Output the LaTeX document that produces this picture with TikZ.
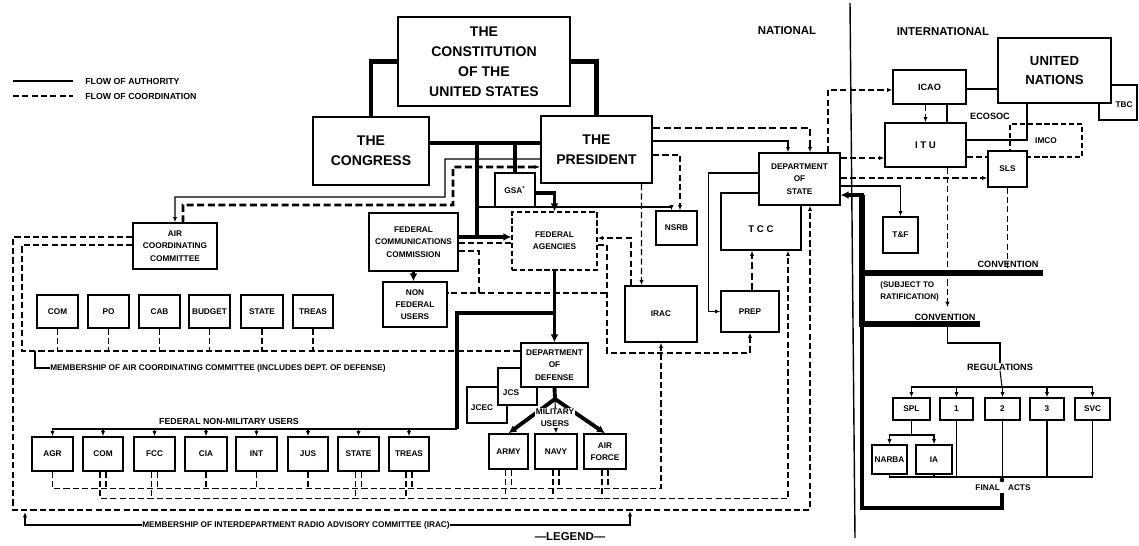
\documentclass[tikz,border=0pt]{standalone}
\usepackage{fontspec}
\setmainfont{Liberation Sans}
\usetikzlibrary{calc,arrows.meta,positioning}
\begin{document}
\begin{tikzpicture}[x=0.02cm, y=-0.02cm, >={Latex[length=3pt,width=2.4pt]}]
	\tikzset{
		org box/.style={draw, line width=0.8pt, fill=white, align=center, inner sep=0pt, font=\fontsize{4.7}{7}\selectfont\bfseries},
		big box/.style={org box, line width=1.2pt, font=\fontsize{8}{11.3}\selectfont\bfseries},
		agency box/.style={org box, dash pattern=on 3pt off 1.6pt},
		box size/.style 2 args={minimum width=#1*0.02cm, minimum height=#2*0.02cm},
		lbl/.style={inner sep=0pt, align=center, font=\fontsize{4.7}{7}\selectfont\bfseries},
		head/.style={inner sep=0pt, font=\fontsize{6.5}{8}\selectfont\bfseries},
		authority/.style={line width=0.6pt},
		heavy/.style={line width=2.2pt},
		coordination/.style={line width=0.75pt, dash pattern=on 3.5pt off 1.8pt},
		heavy coordination/.style={line width=1.5pt, dash pattern=on 4pt off 2pt},
		big tip/.style={-{Latex[length=4.5pt,width=4.5pt]}},
		big tip back/.style={{Latex[length=4.5pt,width=4.5pt]}-}
	}
	\useasboundingbox (0,0) rectangle (1139,546);

	% boxes lying under others
	\path (987,114.5) node [name=ecosoc, org box, fill=none, box size={80}{51}] {}
		(1118,102.5) node [name=tbc, org box, box size={38}{35}] {}
		(1046,140.5) node [name=imco, agency box, fill=none, box size={72}{33}] {IMCO}
		(487,405) node [name=jcec, org box, box size={40}{36}] {}
		(517.5,386.5) node [name=jcs, org box, box size={39}{37}] {}
		(761,221.5) node [name=tcc, org box, box size={80}{57}] {};
	\path (990,116) node [name=ecosoclbl, lbl, font=\fontsize{5.2}{7}\selectfont\bfseries] {ECOSOC}
		(1124,105) node [name=tbclbl, lbl] {TBC}
		(482,408) node [name=jceclbl, lbl] {JCEC}
		(511,393) node [name=jcslbl, lbl] {JCS}
		(761,229) node [name=tcclbl, lbl, font=\fontsize{5.5}{7}\selectfont\bfseries] {T C C};

	% national side
	\path (484,61.5) node [name=const, big box, box size={172}{89}] {THE\\CONSTITUTION\\OF THE\\UNITED STATES}
		(371,151) node [name=cong, big box, box size={116}{68}] {THE\\CONGRESS}
		(596.5,149.5) node [name=pres, big box, box size={111}{67}] {THE\\PRESIDENT}
		(515,190) node [name=gsa, org box, box size={40}{34}] {GSA\textsuperscript{*}}
		(554.5,241) node [name=fedag, agency box, box size={85}{58}] {FEDERAL\\AGENCIES}
		(413.5,242) node [name=fcc, org box, box size={89}{58}] {FEDERAL\\COMMUNICATIONS\\COMMISSION}
		(415,304.5) node [name=nfu, org box, box size={64}{45}] {NON\\FEDERAL\\USERS}
		(676.5,228) node [name=nsrb, org box, box size={41}{34}] {NSRB}
		(661,314) node [name=irac, org box, box size={72}{56}] {IRAC}
		(799.5,179) node [name=dos, org box, box size={81}{52}] {DEPARTMENT\\OF\\STATE}
		(750,311.5) node [name=prep, org box, box size={58}{41}] {PREP}
		(175,246) node [name=acc, org box, box size={84}{46}] {AIR\\COORDINATING\\COMMITTEE}
		(554.5,365) node [name=dod, org box, box size={67}{44}] {DEPARTMENT\\OF\\DEFENSE}
		(900.5,235) node [name=tf, org box, box size={35}{36}] {T\&F};

	\path (57.5,311.5) node [name=acccom, org box, box size={41}{33}] {COM}
		(108.5,311.5) node [name=accpo, org box, box size={41}{33}] {PO}
		(159.5,311.5) node [name=acccab, org box, box size={41}{33}] {CAB}
		(209.5,311.5) node [name=accbudget, org box, box size={41}{33}] {BUDGET}
		(262,311.5) node [name=accstate, org box, box size={42}{33}] {STATE}
		(313,311.5) node [name=acctreas, org box, box size={40}{33}] {TREAS};

	\path (52.5,454) node [name=agr, org box, box size={41}{34}] {AGR}
		(103,454) node [name=com, org box, box size={40}{34}] {COM}
		(154.5,454) node [name=fccu, org box, box size={41}{34}] {FCC}
		(206,454) node [name=cia, org box, box size={42}{34}] {CIA}
		(256.5,454) node [name=int, org box, box size={41}{34}] {INT}
		(308,454) node [name=jus, org box, box size={40}{34}] {JUS}
		(358.5,454) node [name=state, org box, box size={41}{34}] {STATE}
		(409,454) node [name=treas, org box, box size={40}{34}] {TREAS}
		(508.5,451.5) node [name=army, org box, box size={39}{35}] {ARMY}
		(556,451.5) node [name=navy, org box, box size={42}{35}] {NAVY}
		(605,451.5) node [name=af, org box, box size={42}{35}] {AIR\\FORCE};

	% international side
	\path (929.5,87) node [name=icao, org box, box size={73}{34}, font=\fontsize{5.2}{7}\selectfont\bfseries] {ICAO}
		(1054.5,70.5) node [name=un, big box, box size={113}{65}, font=\fontsize{7.5}{10.8}\selectfont\bfseries] {UNITED\\NATIONS}
		(925.5,145) node [name=itu, org box, box size={81}{44}, font=\fontsize{5.5}{7}\selectfont\bfseries] {I T U}
		(1007.5,169) node [name=sls, org box, box size={39}{36}] {SLS}
		(911.5,409) node [name=spl, org box, box size={37}{22}] {SPL}
		(956.5,409) node [name=regone, org box, box size={33}{22}] {1}
		(1002.5,409) node [name=regtwo, org box, box size={35}{22}] {2}
		(1047,409) node [name=regthree, org box, box size={34}{22}] {3}
		(1092.5,409) node [name=svc, org box, box size={35}{22}] {SVC}
		(889.5,459.5) node [name=narba, org box, box size={35}{29}] {NARBA}
		(934,459.5) node [name=ia, org box, box size={36}{29}] {IA};

	% texts
	\path (85,81) node [name=legauth, lbl, anchor=west, font=\fontsize{5}{6}\selectfont\bfseries] {FLOW OF AUTHORITY}
		(85,96) node [name=legcoord, lbl, anchor=west, font=\fontsize{5}{6}\selectfont\bfseries] {FLOW OF COORDINATION}
		(787,31) node [name=national, head] {NATIONAL}
		(943,32) node [name=international, head] {INTERNATIONAL}
		(1008,264) node [name=convone, lbl, font=\fontsize{5.2}{7}\selectfont\bfseries] {CONVENTION}
		(945,317) node [name=convtwo, lbl, font=\fontsize{5.2}{7}\selectfont\bfseries] {CONVENTION}
		(880,291) node [name=subject, lbl, anchor=west, align=left, font=\fontsize{4.6}{6.8}\selectfont\bfseries] {(SUBJECT TO\\RATIFICATION)}
		(1000,367) node [name=regs, lbl, font=\fontsize{5.2}{7}\selectfont\bfseries] {REGULATIONS}
		(1003,488) node [name=finalacts, lbl] {FINAL\quad ACTS}
		(229,421) node [name=fednonmil, lbl, font=\fontsize{5}{7}\selectfont\bfseries] {FEDERAL NON-MILITARY USERS}
		(50,368) node [name=accmember, lbl, anchor=west] {MEMBERSHIP OF AIR COORDINATING COMMITTEE (INCLUDES DEPT. OF DEFENSE)}
		(142,525) node [name=iracmember, lbl, anchor=west] {MEMBERSHIP OF INTERDEPARTMENT RADIO ADVISORY COMMITTEE (IRAC)}
		(570,537) node [name=legend, head] {—LEGEND—};

	% legend and divider
	\draw [authority, line width=1pt] (13,81) -- (73,81);
	\draw [coordination, line width=1pt] (13,96) -- (73,96);
	\draw [line width=0.8pt] (850,3) -- (855,538);

	% authority, national
	\draw [heavy, line width=2.8pt] (const.west) -| (cong.north);
	\draw [heavy, line width=2.8pt] (const.east) -| (pres.north);
	\draw [heavy] ($(cong.east)+(0,-8)$) -- ($(pres.west)+(0,-6.5)$);
	\draw [heavy] (477,143) -- (477,237);
	\draw [heavy] (515,143) -- (gsa.north);
	\draw [heavy, big tip] ($(gsa.east)+(0,3)$) -| (fedag.north);
	\draw [heavy, big tip] ($(fcc.east)+(0,-5)$) -- ($(fedag.west)+(0,-4)$);
	\draw [heavy, big tip] (fcc.south) -- (fcc.south |- nfu.north);
	\draw [heavy, big tip] (fedag.south) -- (dod.north);
	\draw [heavy] ($(fedag.south)+(0,42)$) -| (457,429);
	\draw [authority] (457,429) -- (52.5,429);
	\draw [authority, ->] ($(agr.north)+(0,-8)$) -- (agr.north);
	\draw [authority, ->] ($(com.north)+(0,-8)$) -- (com.north);
	\draw [authority, ->] ($(fccu.north)+(0,-8)$) -- (fccu.north);
	\draw [authority, ->] ($(cia.north)+(0,-8)$) -- (cia.north);
	\draw [authority, ->] ($(int.north)+(0,-8)$) -- (int.north);
	\draw [authority, ->] ($(jus.north)+(0,-8)$) -- (jus.north);
	\draw [authority, ->] ($(state.north)+(0,-8)$) -- (state.north);
	\draw [authority, ->] ($(treas.north)+(0,-8)$) -- (treas.north);
	\draw [heavy] (dod.south) -- (555,399);
	\draw [heavy, big tip] (555,399) -- (army.north);
	\draw [heavy, big tip] (555,399) -- (af.north);
	\draw [authority, ->] (555,399) -- (navy.north);
	\path (555,418) node [name=milusers, lbl, fill=white, inner sep=0.6pt] {MILITARY\\USERS};
	\draw [authority, ->] ($(pres.west)+(0,9.5)$) -- (445,159) -- (445,197) -| (acc.north);
	\draw [authority, ->] (479,207) -| ($(nsrb.north)+(-5,0)$);
	\draw [authority, ->] ($(pres.east)+(0,-8.5)$) -| ($(dos.north)+(-11.5,0)$);
	\draw [authority, ->] ($(dos.west)+(0,-6)$) -| ($(prep.west)+(-12,0)$) -- (prep.west);
	\draw [authority, ->] ($(dos.east)+(0,7)$) -| (tf.north);

	% coordination, national
	\draw [heavy coordination, <-] ($(pres.west)+(0,17.5)$) -- (453,167) -- (453,205) -| ($(acc.north)+(8,0)$);
	\draw [heavy coordination, ->] ($(pres.east)+(0,-21.5)$) -| ($(dos.north)+(10.5,0)$);
	\draw [coordination, ->] ($(pres.east)+(0,5.5)$) -| ($(nsrb.north)+(3.5,0)$);
	\draw [coordination, ->] ($(pres.south)+(45,0)$) -- ($(irac.north)+(-19.5,0)$);
	\draw [coordination] ($(fcc.east)+(0,1)$) -- ($(fedag.west)+(0,2)$);
	\draw [coordination] ($(fcc.east)+(0,9)$) -| (479,293) -- ($(nfu.east)+(0,-11.5)$);
	\draw [coordination] (479,293) -- (607,293);
	\draw [coordination, ->] ($(fedag.east)+(0,4)$) -| (607,353) -| (prep.south);
	\draw [coordination, ->] ($(irac.north)+(-30,0)$) |- ($(fedag.east)+(0,-3)$);
	\draw [heavy coordination, ->] ($(prep.north)+(2,0)$) -- ($(tcc.south)+(-9,0)$);
	\draw [coordination] ($(acc.west)+(0,-1)$) -| (22,351) -- ($(dod.west)+(0,-14)$);
	\draw [coordination] (acccom.south) -- ($(acccom.south)+(0,23)$);
	\draw [coordination] (accpo.south) -- ($(accpo.south)+(0,23)$);
	\draw [coordination] (acccab.south) -- ($(acccab.south)+(0,23)$);
	\draw [coordination] (accbudget.south) -- ($(accbudget.south)+(0,23)$);
	\draw [coordination] (accstate.south) -- ($(accstate.south)+(0,23)$);
	\draw [coordination] (acctreas.south) -- ($(acctreas.south)+(0,23)$);
	\draw [authority] (35,351) |- (accmember.west);
	\draw [coordination, ->] ($(acc.west)+(0,-9)$) -| (13,510) -| ($(dos.south)+(10.5,0)$);
	\draw [coordination, ->] (agr.south) |- ($(irac.south)+(0,146)$) -- (irac.south);
	\draw [coordination, ->] ($(com.south)+(-3,0)$) |- ($(tcc.south)+(27,248)$) -- ($(tcc.south)+(27,0)$);
	\draw [coordination] ($(com.south)+(3,0)$) -- +(0,17);
	\draw [coordination] ($(fccu.south)+(-3,0)$) -- +(0,27);
	\draw [coordination] ($(fccu.south)+(3,0)$) -- +(0,17);
	\draw [coordination] (cia.south) -- +(0,17);
	\draw [coordination] (int.south) -- +(0,17);
	\draw [coordination] (jus.south) -- +(0,17);
	\draw [coordination] ($(state.south)+(-3,0)$) -- +(0,27);
	\draw [coordination] ($(state.south)+(3,0)$) -- +(0,17);
	\draw [coordination] ($(treas.south)+(-3,0)$) -- +(0,27);
	\draw [coordination] ($(treas.south)+(3,0)$) -- +(0,17);
	\draw [coordination] ($(army.south)+(-3,0)$) -- +(0,29);
	\draw [coordination] ($(army.south)+(3,0)$) -- +(0,19);
	\draw [coordination] ($(navy.south)+(-3,0)$) -- +(0,29);
	\draw [coordination] ($(navy.south)+(3,0)$) -- +(0,19);
	\draw [coordination] ($(af.south)+(-3,0)$) -- +(0,29);
	\draw [coordination] ($(af.south)+(3,0)$) -- +(0,19);
	\draw [authority, ->] (iracmember.west) -| (25,512);
	\draw [authority, ->] (iracmember.east) -| (630,511);

	% international
	\draw [coordination, ->] ($(dos.north)+(28.5,0)$) |- ($(icao.west)+(0,3)$);
	\draw [coordination, ->] ($(dos.east)+(0,-21)$) -- ($(itu.west)+(0,13)$);
	\draw [coordination, ->] ($(dos.east)+(0,-1)$) -- ($(sls.west)+(0,9)$);
	\draw [coordination, ->] ($(icao.south)+(-4,0)$) -- (itu.north);
	\draw [coordination] ($(itu.east)+(0,12)$) -- ($(sls.west)+(0,-12)$);
	\draw [coordination, ->] ($(itu.south)+(22,0)$) -- (947.5,307);
	\draw [coordination] (sls.south) -- (1007.5,271);
	\draw [heavy, big tip back] ($(dos.east)+(0,16)$) -- (862,195) -- (862,508) -| (1002,493);
	\draw [line width=3.6pt] (862,195) -- (862,327);
	\draw [line width=3.6pt] (860,273) -- (1043,273);
	\draw [line width=3.6pt] (860,324) -- (980,324);
	\draw [authority] (947.5,327) -- (947.5,343) -| (regs.north);
	\draw [authority] (regs.south) -- (1002,387);
	\draw [authority] (911.5,387) -- (1092.5,387);
	\draw [authority, ->] ($(spl.north)+(0,-11)$) -- (spl.north);
	\draw [authority, ->] ($(regone.north)+(0,-11)$) -- (regone.north);
	\draw [authority, ->] ($(regtwo.north)+(0,-11)$) -- (regtwo.north);
	\draw [authority, ->] ($(regthree.north)+(0,-11)$) -- (regthree.north);
	\draw [authority, ->] ($(svc.north)+(0,-11)$) -- (svc.north);
	\draw [authority] (spl.south) -- (911.5,435);
	\draw [authority] (889.5,435) -- (934,435);
	\draw [authority, ->] ($(narba.north)+(0,-10)$) -- (narba.north);
	\draw [authority, ->] ($(ia.north)+(0,-10)$) -- (ia.north);
	\draw [authority] (narba.south) |- (svc.south |- 0,477) -- (svc.south);
	\draw [authority] (ia.south) -- +(0,3);
	\draw [authority] (regone.south) -- +(0,57);
	\draw [authority] (regtwo.south) -- +(0,57);
	\draw [authority] (regthree.south) -- +(0,57);
	\fill (1002,480) circle (1.3pt);
\end{tikzpicture}
\end{document}
